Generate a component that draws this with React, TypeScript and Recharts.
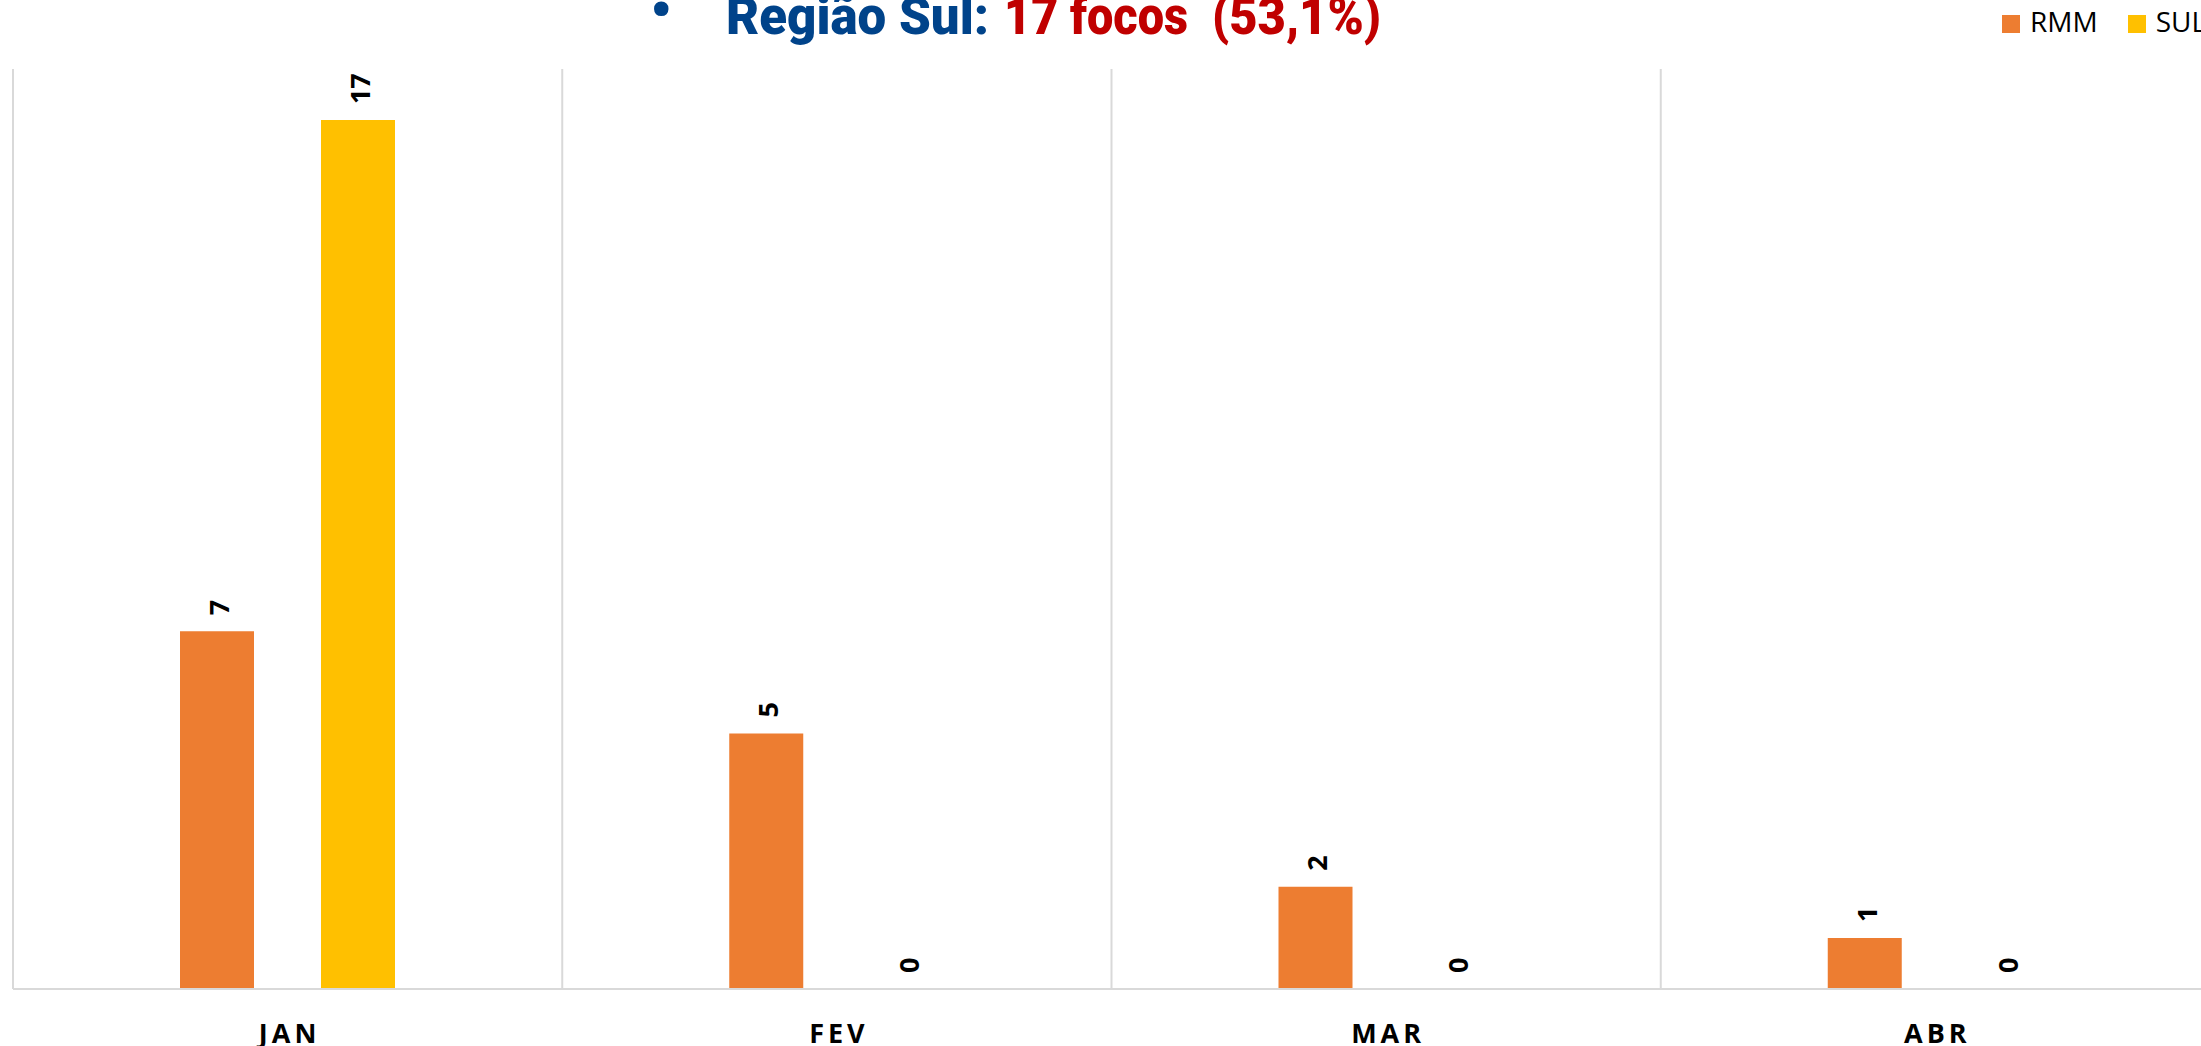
import { BarChart, Bar, XAxis, YAxis, CartesianGrid, Legend, LabelList } from 'recharts'

const months = ['JAN', 'FEV', 'MAR', 'ABR']
const rmmValues = [7, 5, 2, 1]
const sulValues = [17, 0, 0, 0]
const seriesNames = ['RMM', 'SUL']
const seriesColors = ['#ED7D31', '#FFC000']

const data = months.map((month, i) => ({ month, rmm: rmmValues[i], sul: sulValues[i] }))

const FONT = '"Open Sans", "Noto Sans", sans-serif'
const TITLE_FONT = 'Roboto, "Open Sans", sans-serif'

// linhas verticais nas bordas de cada categoria (como no Excel)
const categoryEdges = ({ offset }: any) => {
  const step = offset.width / months.length
  return months.map((_, i) => offset.left + i * step).concat(offset.left + offset.width)
}

// barras com valor 0 precisam de altura minima para o rotulo aparecer
const zeroPointSize = (value: number) => (value === 0 ? 0.01 : 0)

function MonthTick({ x, y, payload }: any) {
  return (
    <text
      x={Number(x) + 2}
      y={Number(y)}
      dy={54}
      textAnchor="middle"
      fontFamily={FONT}
      fontWeight={700}
      fontSize={27}
      letterSpacing={4}
      fill="#000"
    >
      {payload.value}
    </text>
  )
}

function ValueLabel({ x, y, width, value }: any) {
  const cx = Number(x) + Number(width) / 2 + 12
  const ty = Number(y) - 16
  return (
    <text
      x={cx}
      y={ty}
      transform={`rotate(-90 ${cx} ${ty})`}
      textAnchor="start"
      fontFamily={FONT}
      fontWeight={700}
      fontSize={27}
      fill="#000"
    >
      {value}
    </text>
  )
}

function LegendItems({ payload }: any) {
  return (
    <div style={{ display: 'flex', alignItems: 'flex-start', fontFamily: FONT }}>
      {(payload || []).map((entry: any) => (
        <div key={entry.value} style={{ display: 'flex', alignItems: 'flex-start', marginRight: 30 }}>
          <span style={{ width: 18, height: 18, marginTop: 7, marginRight: 10, background: entry.color }} />
          <span style={{ fontSize: 28, lineHeight: '27px', color: '#000', whiteSpace: 'nowrap' }}>
            {entry.value}
          </span>
        </div>
      ))}
    </div>
  )
}

export default function App() {
  return (
    <div
      style={{
        position: 'fixed',
        top: 0,
        left: 0,
        width: 2201,
        height: 1046,
        overflow: 'hidden',
        background: '#fff',
      }}
    >
      <BarChart
        width={2260}
        height={1046}
        data={data}
        margin={{ top: 69, right: 50, bottom: 7, left: 13 }}
        barSize={74}
        barGap={67}
      >
        <CartesianGrid
          horizontal={false}
          stroke="#D9D9D9"
          strokeWidth={2}
          verticalCoordinatesGenerator={categoryEdges}
        />
        <XAxis
          dataKey="month"
          height={50}
          axisLine={{ stroke: '#D9D9D9', strokeWidth: 2 }}
          tickLine={false}
          tickSize={0}
          tickMargin={0}
          tick={<MonthTick />}
          interval={0}
        />
        <YAxis hide domain={[0, 18]} />
        <Legend
          layout="horizontal"
          verticalAlign="middle"
          align="center"
          content={<LegendItems />}
          wrapperStyle={{ left: 2002, top: 8, width: 'auto', right: 'auto', bottom: 'auto' }}
        />
        <Bar
          dataKey="rmm"
          name={seriesNames[0]}
          fill={seriesColors[0]}
          minPointSize={zeroPointSize}
          isAnimationActive={false}
        >
          <LabelList dataKey="rmm" content={<ValueLabel />} />
        </Bar>
        <Bar
          dataKey="sul"
          name={seriesNames[1]}
          fill={seriesColors[1]}
          minPointSize={zeroPointSize}
          isAnimationActive={false}
        >
          <LabelList dataKey="sul" content={<ValueLabel />} />
        </Bar>
      </BarChart>

      <svg
        width={2201}
        height={70}
        style={{ position: 'absolute', top: 0, left: 0, pointerEvents: 'none' }}
      >
        <text x={661} y={30} textAnchor="middle" fontFamily={TITLE_FONT} fontWeight={900} fontSize={58} fill="#00438A">
          •
        </text>
        <g fontFamily={TITLE_FONT} fontWeight={900} fontSize={51}>
          <text x={726} y={34} fill="#00438A" textLength={263} lengthAdjust="spacingAndGlyphs">
            Região Sul:
          </text>
          <text x={1004} y={34} fill="#C00000" textLength={184} lengthAdjust="spacingAndGlyphs">
            17 focos
          </text>
          <text x={1212} y={34} fill="#C00000" textLength={169} lengthAdjust="spacingAndGlyphs">
            (53,1%)
          </text>
        </g>
      </svg>
    </div>
  )
}
